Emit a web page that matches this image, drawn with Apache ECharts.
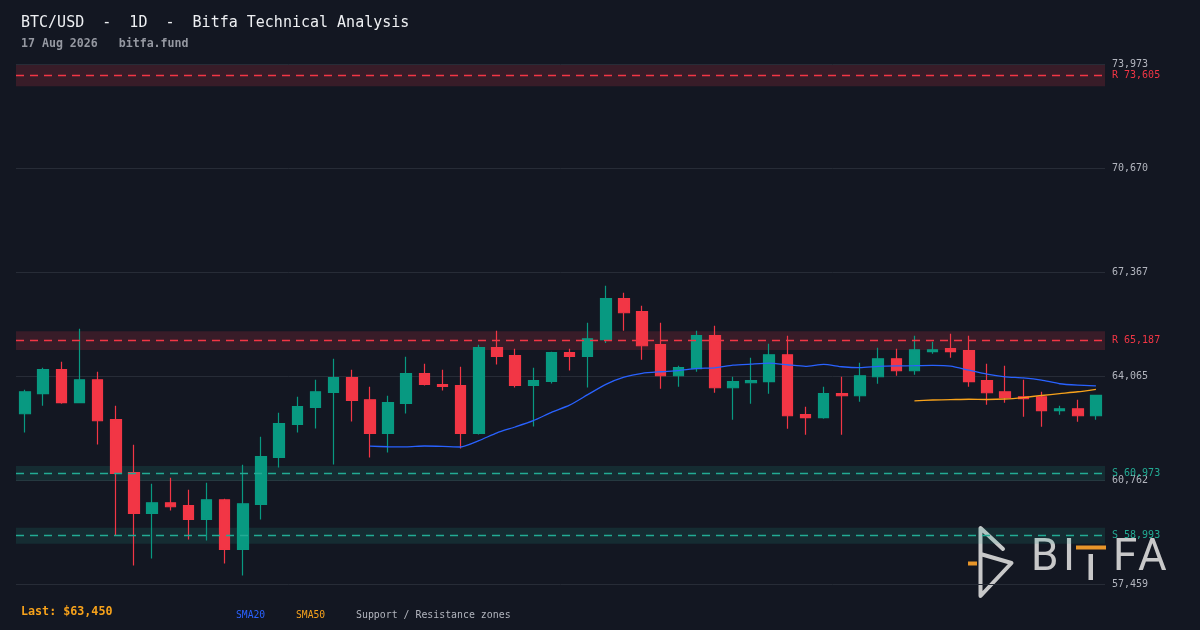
<!DOCTYPE html>
<html>
<head>
<meta charset="utf-8">
<script src="https://cdn.jsdelivr.net/npm/echarts@6/dist/echarts.min.js"></script>
<style>
html,body{margin:0;padding:0;background:#131722;}
#c{width:1200px;height:630px;}
</style>
</head>
<body>
<div id="c"></div>
<script>
// ---- data ----
const categories = [
'2026-06-19','2026-06-20','2026-06-21','2026-06-22','2026-06-23','2026-06-24','2026-06-25','2026-06-26','2026-06-27','2026-06-28',
'2026-06-29','2026-06-30','2026-07-01','2026-07-02','2026-07-03','2026-07-04','2026-07-05','2026-07-06','2026-07-07','2026-07-08',
'2026-07-09','2026-07-10','2026-07-11','2026-07-12','2026-07-13','2026-07-14','2026-07-15','2026-07-16','2026-07-17','2026-07-18',
'2026-07-19','2026-07-20','2026-07-21','2026-07-22','2026-07-23','2026-07-24','2026-07-25','2026-07-26','2026-07-27','2026-07-28',
'2026-07-29','2026-07-30','2026-07-31','2026-08-01','2026-08-02','2026-08-03','2026-08-04','2026-08-05','2026-08-06','2026-08-07',
'2026-08-08','2026-08-09','2026-08-10','2026-08-11','2026-08-12','2026-08-13','2026-08-14','2026-08-15','2026-08-16','2026-08-17'];

const opens  = [62866,63502,64264,63216,63946,62676,60993,59700,60040,59945,
                59509,60135,58557,59986,61479,62527,63067,63543,64010,63311,
                62241,63194,64137,63788,63756,62241,64963,64709,63765,63892,
                64804,64686,65217,66519,66106,65058,64073,64296,65344,63692,
                63851,63883,64740,62835,62740,63502,63438,64041,64613,64232,
                64836,64931,64868,63915,63565,63406,63406,62962,63025,62803];
const closes = [63565,64264,63216,63946,62644,60970,59700,60040,59913,59509,
                60135,58557,60008,61501,62549,63089,63565,64010,63289,62241,
                63216,64137,63797,63734,62241,64963,64686,63765,63915,64804,
                64686,65248,66519,66074,65026,64073,64328,65344,63692,63883,
                63915,64740,62803,62740,63502,63438,64073,64613,64232,64899,
                64899,64836,63883,63533,63375,63343,62962,63025,62803,63450];
const lows   = [62272,63120,63184,63200,61891,58992,58048,58271,59795,58874,
                58843,58112,57731,59509,61161,62272,62399,61256,62622,61479,
                61637,62876,63765,63606,61764,62209,64432,63702,62463,63829,
                64242,63702,65112,65502,64581,63660,63724,64200,63533,62676,
                63184,63502,62390,62199,62708,62199,63248,63819,64073,64105,
                64772,64645,63724,63152,63216,62771,62453,62835,62612,62676];
const highs  = [63629,64328,64518,65566,64200,63120,61882,60643,60834,60453,
                60675,60167,61247,62136,62899,63406,63946,64613,64264,63724,
                63438,64677,64454,64264,64359,65058,65502,64931,64328,64836,
                64931,65757,66932,66709,66296,65757,64391,65502,65661,64041,
                64645,65090,65344,63089,63724,64041,64486,64963,64931,65344,
                65153,65407,65344,64454,64391,63946,63565,63120,63311,63470];

// SMA20 values (from candle 20 on) and SMA50 values (from candle 50 on)
const sma20 = [null,null,null,null,null,null,null,null,null,null,
               null,null,null,null,null,null,null,null,null,61836,
               61818,61812,61841,61830,61810,62010,62259,62445,62645,62910,
               63138,63472,63798,64026,64150,64199,64238,64304,64324,64407,
               64442,64472,64422,64372,64435,64359,64328,64371,64387,64391,
               64402,64381,64250,64123,64040,64004,63935,63819,63775,63753];
const sma50 = [null,null,null,null,null,null,null,null,null,null,
               null,null,null,null,null,null,null,null,null,null,
               null,null,null,null,null,null,null,null,null,null,
               null,null,null,null,null,null,null,null,null,null,
               null,null,null,null,null,null,null,null,null,63276,
               63303,63314,63327,63319,63334,63381,63446,63506,63564,63643];

// support / resistance levels and zone bounds
const zoneKinds  = ['R','R','S','S'];
const zoneLevels = [73605,65187,60973,58993];
const zoneLow    = [73270,64892,60736,58738];
const zoneHigh   = [73940,65482,61210,59248];

const yMin = 57459, yMax = 73973;
const lastPrice = 63450;

// ---- chart ----
const UP = '#089981', DOWN = '#f23645', RED = '#f23645', TEAL = '#22ab94';
const MONO = '"DejaVu Sans Mono", monospace';

const candleData = opens.map((o, i) => [o, closes[i], lows[i], highs[i]]);
const fmt = v => Math.round(v).toLocaleString('en-US');

const markAreaData = zoneLevels.map((lv, i) => [
  {yAxis: zoneLow[i], itemStyle: {color: zoneKinds[i] === 'R' ? 'rgba(242,54,69,0.17)' : 'rgba(34,171,148,0.15)'}},
  {yAxis: zoneHigh[i]}
]);
const markLineData = zoneLevels.map((lv, i) => ({
  yAxis: lv,
  lineStyle: {color: zoneKinds[i] === 'R' ? RED : TEAL, type: [8, 6], width: 1.4, opacity: 1},
  label: {color: zoneKinds[i] === 'R' ? RED : TEAL, formatter: zoneKinds[i] + ' ' + fmt(lv)}
}));

const chart = echarts.init(document.getElementById('c'), null, {renderer: 'canvas'});
chart.setOption({
  animation: false,
  backgroundColor: '#131722',
  grid: {left: 16, right: 95, top: 64, bottom: 46},
  xAxis: {
    type: 'category', data: categories, boundaryGap: true,
    axisLine: {show: false}, axisTick: {show: false}, axisLabel: {show: false}, splitLine: {show: false}
  },
  yAxis: {
    type: 'value', position: 'right', min: yMin, max: yMax, interval: (yMax - yMin) / 5,
    axisLine: {show: false}, axisTick: {show: false},
    splitLine: {lineStyle: {color: '#272c37', width: 1}},
    axisLabel: {color: '#b2b5be', fontFamily: MONO, fontSize: 10, margin: 7, formatter: fmt}
  },
  series: [
    {
      name: 'zones', type: 'line', data: [], z: 1, silent: true,
      markArea: {silent: true, data: markAreaData},
      markLine: {
        silent: true, symbol: ['none','none'],
        lineStyle: {type: [8, 6], width: 1.4, opacity: 1},
        label: {position: 'end', distance: 7, fontFamily: MONO, fontSize: 10},
        data: markLineData
      }
    },
    {
      name: 'BTC', type: 'candlestick', data: candleData, z: 3, barWidth: 11,
      itemStyle: {color: UP, color0: DOWN, borderColor: UP, borderColor0: DOWN, borderWidth: 1.2}
    },
    {
      name: 'SMA20', type: 'line', data: sma20, z: 4, showSymbol: false, smooth: 0.2,
      lineStyle: {color: '#2962ff', width: 1.3}
    },
    {
      name: 'SMA50', type: 'line', data: sma50, z: 4, showSymbol: false, smooth: 0.2,
      lineStyle: {color: '#f7a21b', width: 1.3}
    }
  ],
  graphic: [
    {type: 'text', left: 21, top: 16, style: {text: 'BTC/USD  -  1D  -  Bitfa Technical Analysis', fill: '#eef0f3', font: '15px ' + MONO}},
    {type: 'text', left: 21, top: 38, style: {text: '17 Aug 2026   bitfa.fund', fill: '#9598a1', font: 'bold 11.6px ' + MONO}},
    {type: 'text', left: 21, top: 606, style: {text: 'Last: $' + fmt(lastPrice), fill: '#f7a21b', font: 'bold 11.7px ' + MONO}},
    {type: 'text', left: 236, top: 610, style: {text: 'SMA20', fill: '#2962ff', font: '9.7px ' + MONO}},
    {type: 'text', left: 296, top: 610, style: {text: 'SMA50', fill: '#f7a21b', font: '9.7px ' + MONO}},
    {type: 'text', left: 356, top: 610, style: {text: 'Support / Resistance zones', fill: '#b2b5be', font: '9.9px ' + MONO}},
    // watermark logo
    {type: 'group', z: 100, silent: true, children: [
      {type: 'polyline', shape: {points: [[1003,549],[980.5,528],[980.5,596],[1011.5,563],[980.5,554]]},
        style: {stroke: '#d8d8d8', lineWidth: 4, fill: null, lineJoin: 'round', lineCap: 'round', opacity: 0.92}},
      {type: 'rect', shape: {x: 968, y: 561.5, width: 9, height: 4}, style: {fill: '#e8962a'}},
      {type: 'text', x: 1031, y: 581, style: {text: 'B', fill: '#d8d8d8', font: '44px Roboto', verticalAlign: 'bottom', opacity: 0.92}},
      {type: 'text', x: 1063, y: 581, style: {text: 'I', fill: '#d8d8d8', font: '44px Roboto', verticalAlign: 'bottom', opacity: 0.92}},
      {type: 'rect', shape: {x: 1088.5, y: 554, width: 4.5, height: 26}, style: {fill: '#d8d8d8', opacity: 0.92}},
      {type: 'rect', shape: {x: 1076, y: 545.5, width: 30, height: 4}, style: {fill: '#e8962a'}},
      {type: 'text', x: 1113, y: 581, style: {text: 'F', fill: '#d8d8d8', font: '44px Roboto', verticalAlign: 'bottom', opacity: 0.92}},
      {type: 'text', x: 1138, y: 581, style: {text: 'A', fill: '#d8d8d8', font: '44px Roboto', verticalAlign: 'bottom', opacity: 0.92}}
    ]}
  ]
});
</script>
</body>
</html>
